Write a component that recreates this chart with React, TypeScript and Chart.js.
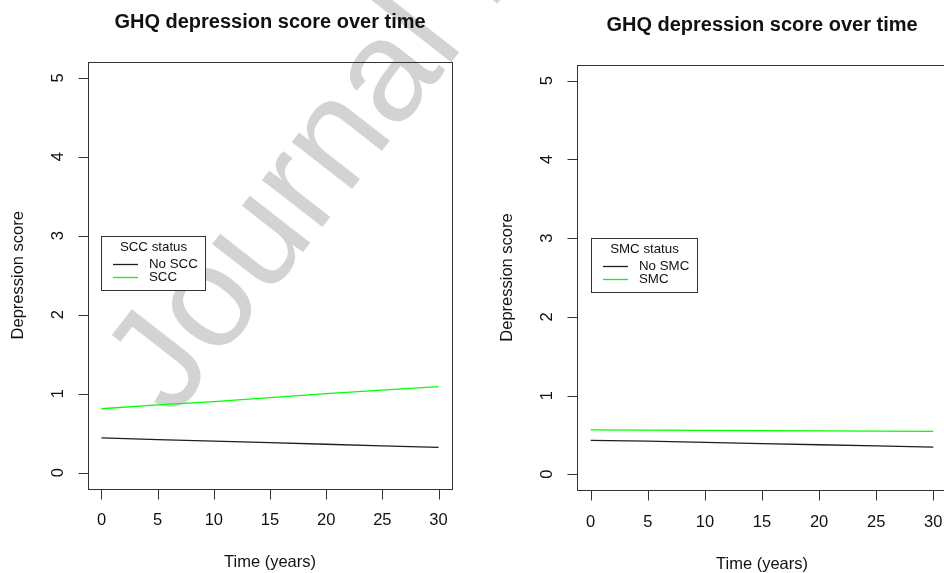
import React, { useEffect, useRef } from "react";
import { Chart, registerables } from "chart.js";

Chart.register(...registerables);

// ---- data ----
const TIME = [0, 5, 10, 15, 20, 25, 30];
const X_TICKS = [0, 5, 10, 15, 20, 25, 30];
const Y_TICKS = [0, 1, 2, 3, 4, 5];
const X_RANGE = [-1.2, 31.2];
const Y_RANGE = [-0.2, 5.2];

const NO_SCC = [0.44, 0.42, 0.4, 0.38, 0.36, 0.34, 0.32];
const SCC = [0.81, 0.86, 0.9, 0.95, 1.0, 1.045, 1.09];
const NO_SMC = [0.43, 0.42, 0.405, 0.39, 0.375, 0.36, 0.345];
const SMC = [0.563, 0.56, 0.557, 0.555, 0.552, 0.549, 0.546];

const TITLE = "GHQ depression score over time";
const X_TITLE = "Time (years)";
const Y_TITLE = "Depression score";
const LEFT_LABELS = ["No SCC", "SCC"];
const LEFT_LEGEND_TITLE = "SCC status";
const RIGHT_LABELS = ["No SMC", "SMC"];
const RIGHT_LEGEND_TITLE = "SMC status";
const LEGEND_AT = { x: 0, y: 3 };
const COLORS = ["#1e1e1e", "#00ff00"];
const WATERMARK = "Journal Pre-proof";

const FONT = "'Liberation Sans', Arial, Helvetica, sans-serif";
const INK = "#111111";
const FRAME = "#333333";

const rPlot = {
  id: "rPlot",
  afterDraw(chart: any, _args: any, opts: any) {
    const ctx = chart.ctx as CanvasRenderingContext2D;
    const ca = chart.chartArea;
    const xs = chart.scales.x;
    const ys = chart.scales.y;
    ctx.save();
    // frame
    ctx.strokeStyle = FRAME;
    ctx.lineWidth = 1;
    ctx.strokeRect(Math.round(ca.left) + 0.5, Math.round(ca.top) + 0.5, Math.round(ca.right - ca.left), Math.round(ca.bottom - ca.top));

    const bottom = Math.round(ca.bottom) + 0.5;
    const left = Math.round(ca.left) + 0.5;
    // x axis
    ctx.beginPath();
    ctx.moveTo(xs.getPixelForValue(X_TICKS[0]), bottom);
    ctx.lineTo(xs.getPixelForValue(X_TICKS[X_TICKS.length - 1]), bottom);
    X_TICKS.forEach((t) => {
      const px = Math.round(xs.getPixelForValue(t)) + 0.5;
      ctx.moveTo(px, bottom);
      ctx.lineTo(px, bottom + 10);
    });
    // y axis
    ctx.moveTo(left, ys.getPixelForValue(Y_TICKS[0]));
    ctx.lineTo(left, ys.getPixelForValue(Y_TICKS[Y_TICKS.length - 1]));
    Y_TICKS.forEach((t) => {
      const py = Math.round(ys.getPixelForValue(t)) + 0.5;
      ctx.moveTo(left, py);
      ctx.lineTo(left - 10, py);
    });
    ctx.stroke();

    ctx.fillStyle = INK;
    ctx.font = `16.5px ${FONT}`;
    ctx.textAlign = "center";
    ctx.textBaseline = "middle";
    X_TICKS.forEach((t) => {
      ctx.fillText(String(t), xs.getPixelForValue(t), ca.bottom + 32);
    });
    Y_TICKS.forEach((t) => {
      ctx.save();
      ctx.translate(ca.left - 30, ys.getPixelForValue(t));
      ctx.rotate(-Math.PI / 2);
      ctx.fillText(String(t), 0, 0);
      ctx.restore();
    });
    // axis titles
    const cx = (ca.left + ca.right) / 2;
    const cy = (ca.top + ca.bottom) / 2;
    ctx.fillText(X_TITLE, cx, ca.bottom + 74);
    ctx.save();
    ctx.translate(ca.left - 70, cy);
    ctx.rotate(-Math.PI / 2);
    ctx.fillText(Y_TITLE, 0, 0);
    ctx.restore();
    // main title
    ctx.font = `bold 20px ${FONT}`;
    ctx.fillText(TITLE, cx, ca.top - 40);

    // legend
    const lx = Math.round(xs.getPixelForValue(LEGEND_AT.x)) + 0.5;
    const ly = Math.round(ys.getPixelForValue(LEGEND_AT.y)) + 0.5;
    ctx.font = `13.3px ${FONT}`;
    const dsets = chart.data.datasets;
    let maxW = 0;
    dsets.forEach((d: any) => (maxW = Math.max(maxW, ctx.measureText(d.label).width)));
    const w = Math.round(47.5 + maxW + 8);
    const h = 54;
    ctx.fillStyle = "#ffffff";
    ctx.fillRect(lx, ly, w, h);
    ctx.strokeStyle = FRAME;
    ctx.strokeRect(lx, ly, w, h);
    ctx.fillStyle = INK;
    ctx.textAlign = "center";
    ctx.fillText(opts.legendTitle, lx + w / 2, ly + 11);
    ctx.textAlign = "left";
    dsets.forEach((d: any, i: number) => {
      const yy = ly + 28 + i * 13;
      ctx.strokeStyle = d.borderColor;
      ctx.lineWidth = 1.3;
      ctx.beginPath();
      ctx.moveTo(lx + 11.5, yy);
      ctx.lineTo(lx + 36.5, yy);
      ctx.stroke();
      ctx.fillText(d.label, lx + 47.5, yy);
    });
    ctx.restore();
  },
};

type PanelProps = {
  left: number;
  width: number;
  padding: { left: number; right: number; top: number; bottom: number };
  labels: string[];
  series: number[][];
  legendTitle: string;
};

function Panel({ left, width, padding, labels, series, legendTitle }: PanelProps) {
  const ref = useRef<HTMLCanvasElement | null>(null);
  useEffect(() => {
    if (!ref.current) return;
    const chart = new Chart(ref.current, {
      type: "line",
      data: {
        datasets: series.map((s, i) => ({
          label: labels[i],
          data: TIME.map((t, j) => ({ x: t, y: s[j] })),
          borderColor: COLORS[i],
          borderWidth: 1.3,
          pointRadius: 0,
          fill: false,
          tension: 0,
        })),
      },
      options: {
        responsive: false,
        animation: false,
        events: [],
        layout: { padding },
        plugins: {
          legend: { display: false },
          title: { display: false },
          tooltip: { enabled: false },
          rPlot: { legendTitle },
        } as any,
        scales: {
          x: { type: "linear", min: X_RANGE[0], max: X_RANGE[1], display: false },
          y: { type: "linear", min: Y_RANGE[0], max: Y_RANGE[1], display: false },
        },
      },
      plugins: [rPlot],
    });
    return () => chart.destroy();
  }, []);
  return (
    <canvas
      ref={ref}
      width={width}
      height={573}
      style={{ position: "absolute", left, top: 0, width, height: 573 }}
    />
  );
}

const WM_SIZE = 145;

export default function App() {
  return (
    <div
      style={{
        position: "fixed",
        left: 0,
        top: 0,
        width: 944,
        height: 573,
        overflow: "hidden",
        background: "#ffffff",
      }}
    >
      <div
        style={{
          position: "absolute",
          left: 173,
          top: 420 - 0.8465 * WM_SIZE,
          fontFamily: FONT,
          fontSize: WM_SIZE,
          lineHeight: 1,
          whiteSpace: "nowrap",
          color: "#d3d3d3",
          transformOrigin: `0px ${0.8465 * WM_SIZE}px`,
          transform: "rotate(-52deg)",
        }}
      >
        {WATERMARK}
      </div>
      <Panel
        left={0}
        width={490}
        padding={{ left: 88, right: 38, top: 62, bottom: 84.5 }}
        labels={LEFT_LABELS}
        series={[NO_SCC, SCC]}
        legendTitle={LEFT_LEGEND_TITLE}
      />
      <Panel
        left={490}
        width={510}
        padding={{ left: 87, right: 53, top: 65, bottom: 83 }}
        labels={RIGHT_LABELS}
        series={[NO_SMC, SMC]}
        legendTitle={RIGHT_LEGEND_TITLE}
      />
    </div>
  );
}
